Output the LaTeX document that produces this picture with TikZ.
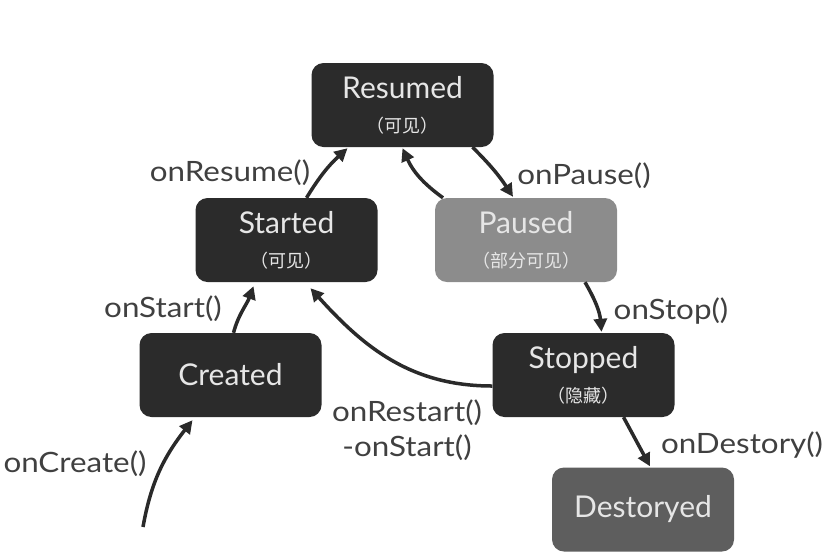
\documentclass[tikz,border=0pt]{standalone}
\usepackage{fontspec}
\setmainfont{Lato}
\newfontfamily\lblfont[FakeStretch=1.12]{Lato}
\newfontfamily\cjk{Noto Sans CJK SC}
\usetikzlibrary{arrows.meta,calc}
\definecolor{boxdark}{HTML}{2B2B2B}
\definecolor{boxpaused}{HTML}{8C8C8C}
\definecolor{boxdest}{HTML}{5E5E5E}
\definecolor{boxtext}{HTML}{E6E6E6}
\definecolor{lbltext}{HTML}{404040}
\definecolor{arrowc}{HTML}{2A2A2A}
\begin{document}
\begin{tikzpicture}[x=1pt,y=-1pt,
  statebox/.style={rounded corners=12pt, minimum width=182pt, minimum height=84pt,
     inner sep=0pt, align=center, text=boxtext, fill=boxdark,
     font=\fontsize{30}{32}\selectfont},
  trans/.style={draw=arrowc, line width=3.5pt,
     -{Triangle[length=13pt,width=13pt]}},
  lbl/.style={text=lbltext, inner sep=0pt, font=\lblfont\fontsize{28}{35}\selectfont}
]
\useasboundingbox (0,0) rectangle (826,558);
\newcommand{\subtxt}[1]{{\cjk\fontsize{18}{20}\selectfont #1}}

\node[statebox] (resumed) at (402.5,105) {Resumed\\[2pt]\subtxt{（可见）}};
\node[statebox] (started) at (286.5,240) {Started\\[2pt]\subtxt{（可见）}};
\node[statebox, fill=boxpaused] (paused) at (526,240) {Paused\\[2pt]\subtxt{（部分可见）}};
\node[statebox] (created) at (230.5,375) {Created};
\node[statebox] (stopped) at (583.5,375) {Stopped\\[2pt]\subtxt{（隐藏）}};
\node[statebox, fill=boxdest] (destoryed) at (643,509.5) {Destoryed};

\coordinate (start) at (143,527);

\draw[trans] (start) to[out=80,in=232] ($(created.south)+(-38,3)$);
\draw[trans] ($(created.north)+(3,0)$) to[out=75,in=250] ($(started.south)+(-33,4)$);
\draw[trans] ($(started.north)+(20,0)$) to[bend left=8] ($(resumed.south)+(-55,1)$);
\draw[trans] ($(paused.north)+(-83,0)$) to[bend left=15] ($(resumed.south)+(0,1)$);
\draw[trans] ($(resumed.south)+(70,0)$) to[bend left=6] ($(paused.north)+(-13,-1)$);
\draw[trans] ($(paused.south)+(59,0)$) to[out=-60,in=95] ($(stopped.north)+(18,-1)$);
\draw[trans] ($(stopped.west)+(0,11)$) to[out=180,in=-48] ($(started.south)+(24,6)$);
\draw[trans] ($(stopped.south)+(40,0)$) -- ($(destoryed.north)+(7,-1)$);

\node[lbl] (lresume) at (230,173) {onResume()};
\node[lbl] (lpause) at (584,176) {onPause()};
\node[lbl] (lstart) at (163,309) {onStart()};
\node[lbl] (lstop) at (671,311) {onStop()};
\node[lbl, align=center] (lrestart) at (407,430) {onRestart()\\-onStart()};
\node[lbl] (lcreate) at (75,464) {onCreate()};
\node[lbl] (ldestory) at (742,445) {onDestory()};
\end{tikzpicture}
\end{document}
